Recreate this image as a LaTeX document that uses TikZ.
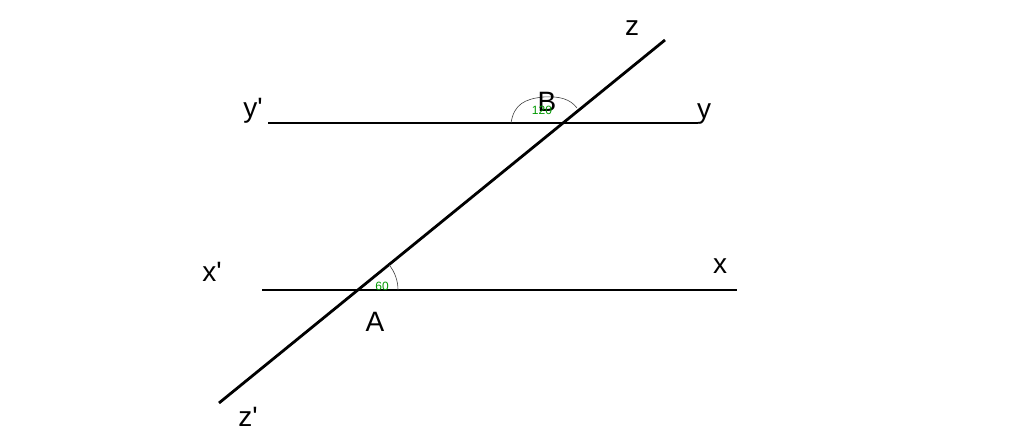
\documentclass[tikz,border=0pt]{standalone}
\usepackage{fontspec}
\setmainfont{Liberation Sans}
\begin{document}
\begin{tikzpicture}[x=1pt,y=-1pt,
  thick line/.style={line width=2.8pt},
  angarc/.style={line width=0.6pt,draw=black!75},
  lbl/.style={font=\fontsize{28}{28}\selectfont,inner sep=0pt},
  deg/.style={font=\fontsize{12}{12}\selectfont,text=green!60!black,inner sep=0pt}]
\useasboundingbox (0,0) rectangle (1024,446);
% endpoints
\coordinate (zs) at (219,403);
\coordinate (ze) at (665,40);
\coordinate (ys) at (268,123);
\coordinate (ye) at (698,123);
\coordinate (xs) at (262,290);
\coordinate (xe) at (737,290);
\coordinate (A) at (358,290);
\coordinate (B) at (563,123);
% lines
\draw[thick line] (ys) -- (ye);
\draw[thick line] (xs) -- (xe);
\draw[thick line] (zs) -- (ze);
% angle arcs
\draw[angarc] (398,290) arc[start angle=0,end angle=-39.1,radius=40];
\draw[angarc] (511,123) .. controls (514,104) and (525,99) .. (543,97)
  .. controls (560,96) and (570,99) .. (577,108);
% labels
\node[lbl] (lz) at (632,28) {z};
\node[lbl] (lyp) at (253,111) {y\textquotesingle};
\node[lbl] (ly) at (704,114) {y};
\node[lbl] (lxp) at (212,272) {x\textquotesingle};
\node[lbl] (lx) at (720,266) {x};
\node[lbl] (lA) at (375,322) {A};
\node[lbl] (lzp) at (248,417) {z\textquotesingle};
\node[lbl] (lB) at (547,102) {B};
\node[deg] (d120) at (542,110) {120};
\node[deg] (d60) at (382,286) {60};
\end{tikzpicture}
\end{document}
